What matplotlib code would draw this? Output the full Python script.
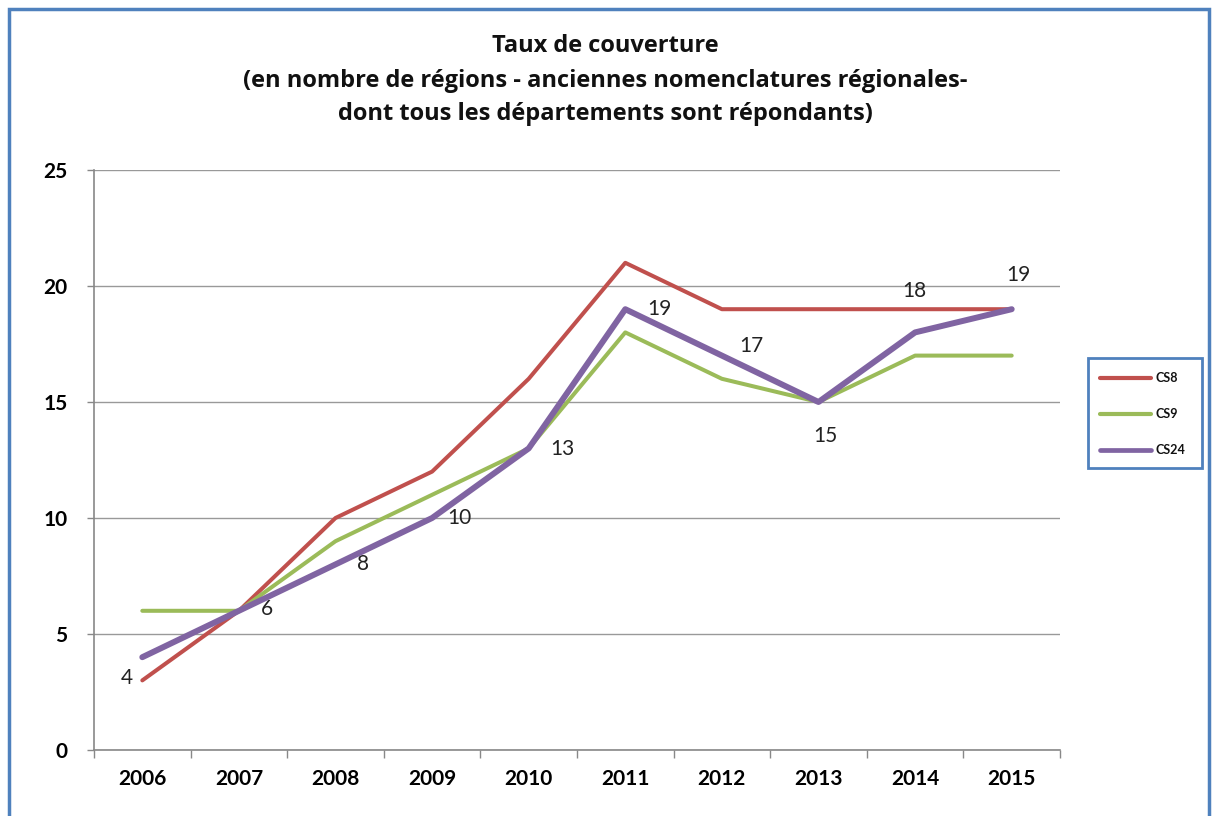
import matplotlib
matplotlib.use("Agg")
import matplotlib.pyplot as plt
from matplotlib.patches import Rectangle
from matplotlib.lines import Line2D

years = ["2006", "2007", "2008", "2009", "2010", "2011", "2012", "2013", "2014", "2015"]
cs8 = [3, 6, 10, 12, 16, 21, 19, 19, 19, 19]
cs9 = [6, 6, 9, 11, 13, 18, 16, 15, 17, 17]
cs24 = [4, 6, 8, 10, 13, 19, 17, 15, 18, 19]
series_names = ["CS8", "CS9", "CS24"]
title_lines = ["Taux de couverture",
               "(en nombre de régions - anciennes nomenclatures régionales-",
               "dont tous les départements sont répondants)"]

plt.rcParams['font.family'] = ['Lato', 'DejaVu Sans']

W, H = 1212, 816
fig = plt.figure(figsize=(W / 100, H / 100), dpi=100)

# outer frame
fig.patches.append(Rectangle((9 / W, -0.01), (1209 - 9) / W, 1 - 9 / H + 0.01,
                             transform=fig.transFigure, fill=False,
                             edgecolor="#4F81BD", linewidth=2.5))

ax = fig.add_axes([94 / W, 1 - 750 / H, (1060 - 94) / W, (750 - 170) / H])
x = list(range(len(years)))
red, green, purple = "#C0504D", "#9BBB59", "#8064A2"
ax.plot(x, cs8, color=red, lw=2.9, solid_capstyle="round", zorder=3)
ax.plot(x, cs9, color=green, lw=2.9, solid_capstyle="round", zorder=3)
ax.plot(x, cs24, color=purple, lw=4.3, solid_capstyle="round", zorder=4)

ax.set_xlim(-0.5, len(years) - 0.5)
ax.set_ylim(0, 25)
ax.set_yticks([0, 5, 10, 15, 20, 25])
ax.yaxis.grid(True, color="#999999", lw=1)
ax.set_axisbelow(True)
ax.set_xticks([i - 0.5 for i in range(len(years) + 1)])
ax.set_xticklabels([])
ax.set_xticks(x, minor=True)
ax.set_xticklabels(years, minor=True)
ax.tick_params(axis="x", which="major", length=6, color="#888888", width=1)
ax.tick_params(axis="x", which="minor", length=0, pad=14, labelsize=15)
ax.tick_params(axis="y", length=5, color="#888888", width=1, pad=14, labelsize=15)
for lbl in ax.get_xticklabels(minor=True) + ax.get_yticklabels():
    lbl.set_fontweight("bold")
for s in ["top", "right"]:
    ax.spines[s].set_visible(False)
for s in ["left", "bottom"]:
    ax.spines[s].set_color("#888888")
    ax.spines[s].set_linewidth(1.2)

# data labels for CS24 (offsets in pixels)
offsets = [(-15, -21), (28, 2), (28, 0), (27, 0), (34, -1), (34, 0), (29, 10), (7, -34), (-1, 41), (7, 34)]
for i, v in enumerate(cs24):
    dx, dy = offsets[i]
    ax.annotate(str(v), (i, v), xytext=(dx * 0.72, dy * 0.72), textcoords="offset points",
                ha="center", va="center", fontsize=15, color="#222222")

# title
ys = [46, 81, 114]
for t, yy in zip(title_lines, ys):
    fig.text(605 / W, 1 - yy / H, t, ha="center", va="center", fontsize=17,
             fontweight="bold", color="#111111", family=["Open Sans", "DejaVu Sans"])

# legend
lx0, ly0, lx1, ly1 = 1088, 358, 1202, 468
fig.patches.append(Rectangle((lx0 / W, 1 - ly1 / H), (lx1 - lx0) / W, (ly1 - ly0) / H,
                             transform=fig.transFigure, fill=False,
                             edgecolor="#4F81BD", linewidth=2))
for name, col, lw, yy in zip(series_names, [red, green, purple], [3.0, 3.0, 3.4], [378, 414, 450]):
    fig.lines.append(Line2D([1100 / W, 1151 / W], [1 - yy / H, 1 - yy / H],
                            transform=fig.transFigure, color=col, lw=lw,
                            solid_capstyle="round"))
    fig.text(1155 / W, 1 - yy / H, name, ha="left", va="center", fontsize=9,
             fontweight="bold", color="#111111")

fig.savefig("out.png", dpi=100)
